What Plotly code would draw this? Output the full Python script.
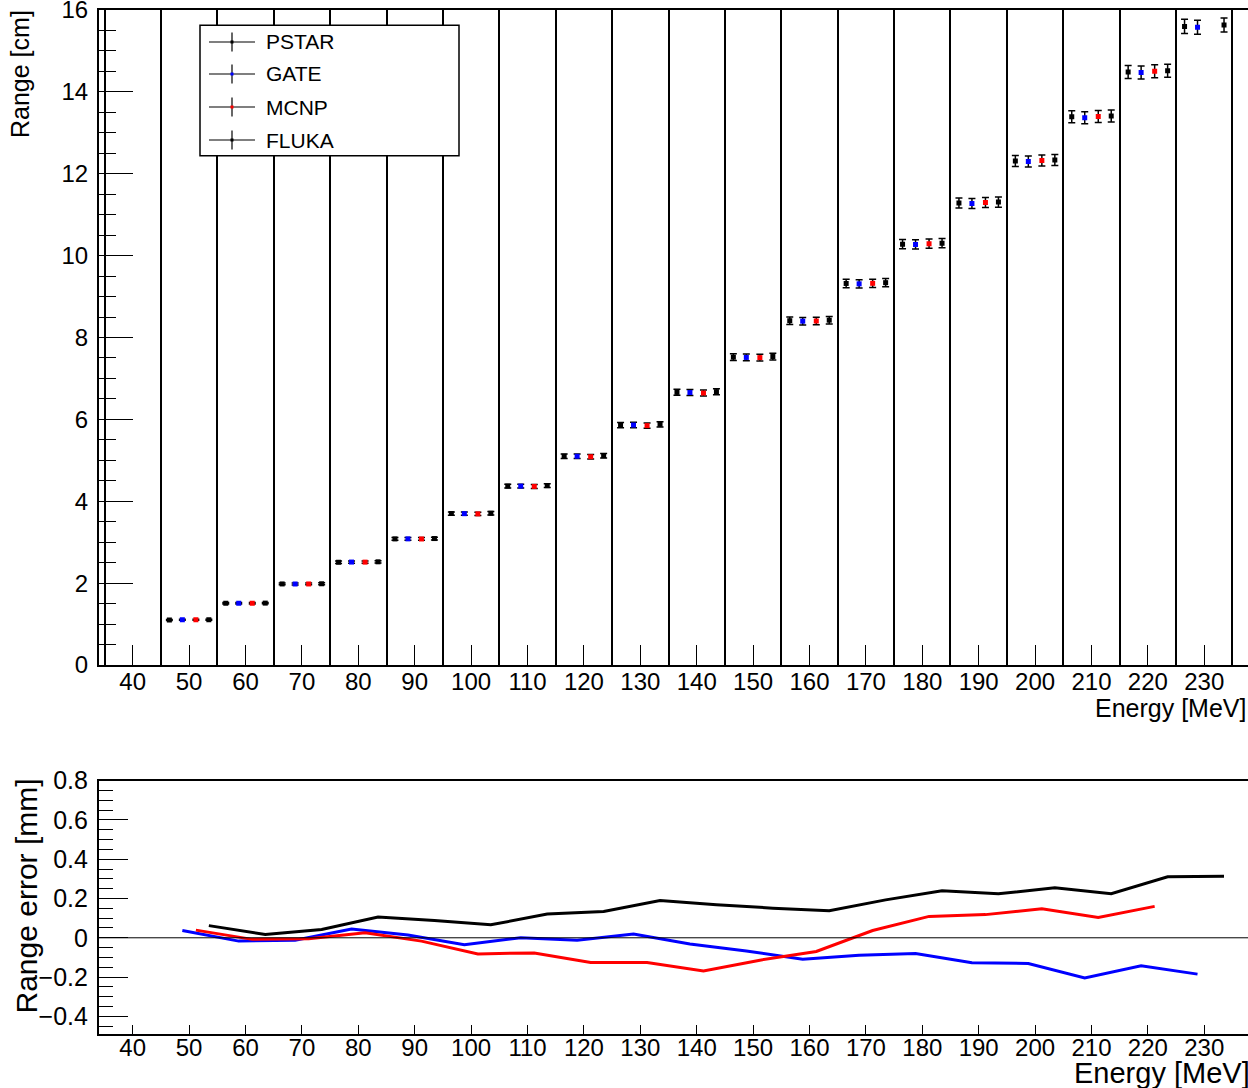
import plotly.graph_objects as go

# ---------------- data ----------------
energies = [50, 60, 70, 80, 90, 100, 110, 120, 130, 140, 150, 160, 170, 180, 190, 200, 210, 220, 230]
pstar_cm = [1.10, 1.51, 1.98, 2.51, 3.08, 3.70, 4.37, 5.10, 5.86, 6.66, 7.52, 8.41, 9.32,
            10.28, 11.285, 12.31, 13.39, 14.485, 15.60]
err_cm = [0.012, 0.017, 0.022, 0.028, 0.034, 0.040, 0.048, 0.056, 0.065, 0.073, 0.083, 0.092,
          0.102, 0.113, 0.124, 0.135, 0.147, 0.159, 0.171]
# deviation from PSTAR [mm]
gate_dev_mm = [0.037, -0.017, -0.012, 0.045, 0.014, -0.035, 0.0, -0.012, 0.019, -0.032, -0.067,
               -0.109, -0.089, -0.080, -0.127, -0.131, -0.205, -0.143, -0.185]
mcnp_dev_mm = [0.039, -0.008, -0.005, 0.025, -0.017, -0.082, -0.077, -0.126, -0.126, -0.169,
               -0.114, -0.070, 0.037, 0.109, 0.118, 0.148, 0.104, 0.160, None]
fluka_dev_mm = [0.062, 0.017, 0.042, 0.106, 0.088, 0.066, 0.121, 0.134, 0.190, 0.168, 0.151,
                0.138, 0.193, 0.240, 0.224, 0.255, 0.224, 0.311, 0.314]

series_names = ["PSTAR", "GATE", "MCNP", "FLUKA"]
series_colors = ["black", "blue", "red", "black"]
x_offsets = [-3.5, -1.2, 1.2, 3.5]

# ---------------- layout helpers ----------------
W, H = 1248, 1088
def fx(px):
    return px / W
def fy(py):
    return 1 - py / H

FONT = "Liberation Sans, Arial, Helvetica, sans-serif"

def add_mm(base, dev):
    return [None if d is None else b + d / 10.0 for b, d in zip(base, dev)]

top_values = [
    pstar_cm,
    add_mm(pstar_cm, gate_dev_mm),
    add_mm(pstar_cm, mcnp_dev_mm),
    add_mm(pstar_cm, fluka_dev_mm),
]

fig = go.Figure()

for name, col, off, vals in zip(series_names, series_colors, x_offsets, top_values):
    xs = [e + off for e, v in zip(energies, vals) if v is not None]
    ys = [v for v in vals if v is not None]
    es = [er for er, v in zip(err_cm, vals) if v is not None]
    fig.add_trace(go.Scatter(
        x=xs, y=ys, mode="markers", name=name, showlegend=False,
        marker=dict(symbol="square", size=5, color=col),
        error_y=dict(type="data", array=es, visible=True, color="black",
                     thickness=1.5, width=3.5),
        xaxis="x", yaxis="y"))

for name, col, off, dev in [("FLUKA", "black", x_offsets[3], fluka_dev_mm),
                            ("GATE", "blue", x_offsets[1], gate_dev_mm),
                            ("MCNP", "red", x_offsets[2], mcnp_dev_mm)]:
    xs = [e + off for e, d in zip(energies, dev) if d is not None]
    ys = [d for d in dev if d is not None]
    fig.add_trace(go.Scatter(x=xs, y=ys, mode="lines", name=name, showlegend=False,
                             line=dict(color=col, width=3), xaxis="x2", yaxis="y2"))

x_range = [33.97, 237.75]
xdom = [fx(98.7), 1.0]

common_x = dict(range=x_range, domain=xdom, tickmode="linear", tick0=40, dtick=10,
                ticks="inside", tickcolor="black", tickwidth=1, showgrid=False,
                zeroline=False, showline=True, linecolor="black", linewidth=1.5,
                mirror=True, automargin=False, ticklabeloverflow="allow",
                tickfont=dict(family=FONT, size=24, color="black"))

fig.update_layout(
    width=W, height=H, margin=dict(l=0, r=0, t=0, b=0, autoexpand=False),
    paper_bgcolor="white", plot_bgcolor="white", showlegend=False,
    xaxis=dict(**common_x, anchor="y", ticklen=20, ticklabelstandoff=-6,
               minor=dict(tick0=45, dtick=10, showgrid=True, gridcolor="black",
                          gridwidth=1.5, ticklen=0)),
    yaxis=dict(domain=[fy(665), fy(10)], range=[0, 16], tickmode="linear", tick0=0, dtick=2,
               ticks="inside", ticklen=35, tickcolor="black", tickwidth=1,
               minor=dict(dtick=0.5, ticks="inside", ticklen=18, tickcolor="black"),
               showgrid=False, zeroline=False, showline=True, linecolor="black",
               linewidth=1.5, anchor="x", automargin=False, ticklabelstandoff=4,
               ticklabeloverflow="allow",
               tickfont=dict(family=FONT, size=24, color="black")),
    xaxis2=dict(**common_x, anchor="y2", ticklen=9, ticklabelstandoff=-9),
    yaxis2=dict(domain=[fy(1034), fy(780.7)], range=[-0.49, 0.8], tickmode="linear",
                tick0=0, dtick=0.2, ticks="inside", ticklen=30, tickcolor="black",
                tickwidth=1,
                minor=dict(dtick=0.05, ticks="inside", ticklen=15, tickcolor="black"),
                showgrid=False, zeroline=False, showline=True, linecolor="black",
                linewidth=1.5, anchor="x2", automargin=False, ticklabelstandoff=4,
                ticklabeloverflow="allow",
                tickfont=dict(family=FONT, size=25, color="black")),
)

# zero line in lower panel
fig.add_shape(type="line", xref="x2 domain", yref="y2", x0=0, x1=1, y0=0, y1=0,
              line=dict(color="black", width=1))

# axis titles (ROOT style alignment)
fig.add_annotation(text="Range [cm]", xref="paper", yref="paper", x=fx(20), y=fy(8),
                   xanchor="center", yanchor="top", textangle=-90, showarrow=False,
                   font=dict(family=FONT, size=25, color="black"))
fig.add_annotation(text="Energy [MeV]", xref="paper", yref="paper", x=1.0, y=fy(708),
                   xanchor="right", yanchor="middle", showarrow=False,
                   font=dict(family=FONT, size=25, color="black"))
fig.add_annotation(text="Range error [mm]", xref="paper", yref="paper", x=fx(26), y=fy(777),
                   xanchor="center", yanchor="top", textangle=-90, showarrow=False,
                   font=dict(family=FONT, size=30, color="black"))
fig.add_annotation(text="Energy [MeV]", xref="paper", yref="paper", x=1.003, y=fy(1073),
                   xanchor="right", yanchor="middle", showarrow=False,
                   font=dict(family=FONT, size=29, color="black"))

# legend box drawn manually (ROOT TLegend style)
fig.add_shape(type="rect", xref="paper", yref="paper", x0=fx(200), x1=fx(459),
              y0=fy(155.7), y1=fy(25.3), line=dict(color="black", width=1.5),
              fillcolor="white", layer="above")
leg_rows = [42, 74, 107, 140]
for row, name, col in zip(leg_rows, series_names, series_colors):
    fig.add_shape(type="line", xref="paper", yref="paper", x0=fx(209), x1=fx(255),
                  y0=fy(row), y1=fy(row), line=dict(color="black", width=1.2), layer="above")
    fig.add_shape(type="line", xref="paper", yref="paper", x0=fx(232), x1=fx(232),
                  y0=fy(row + 9.5), y1=fy(row - 9.5), line=dict(color="black", width=1.2),
                  layer="above")
    fig.add_shape(type="rect", xref="paper", yref="paper", x0=fx(230.5), x1=fx(233.5),
                  y0=fy(row + 1.5), y1=fy(row - 1.5), line=dict(width=0), fillcolor=col,
                  layer="above")
    fig.add_annotation(text=name, xref="paper", yref="paper", x=fx(264), y=fy(row),
                       xanchor="left", yanchor="middle", showarrow=False,
                       font=dict(family=FONT, size=21, color="black"))

fig.write_html("out.html", config={"displayModeBar": False},
               post_script="document.body.style.margin='0';document.body.style.overflow='hidden';")
